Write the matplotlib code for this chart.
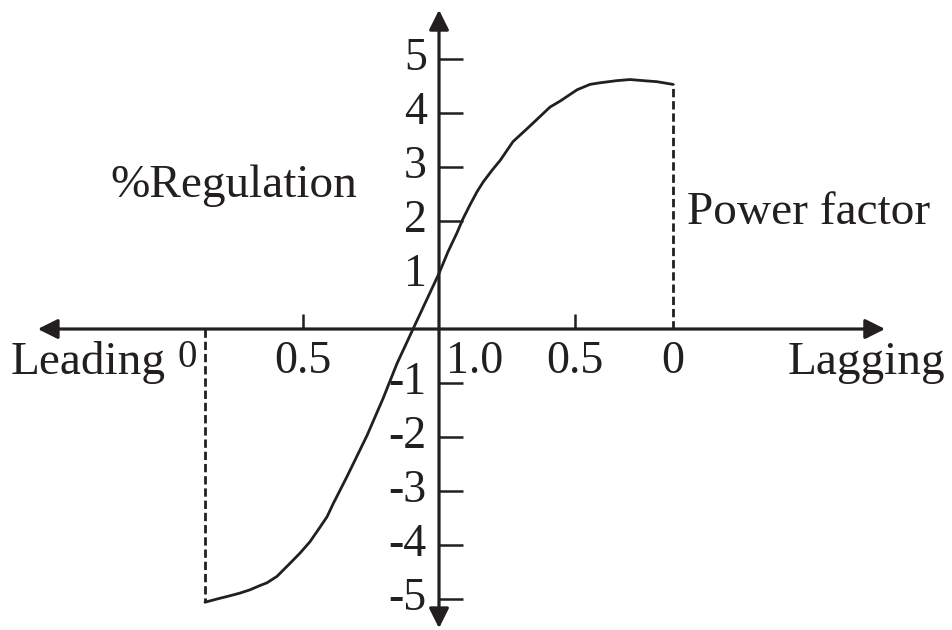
import matplotlib
matplotlib.use('Agg')
import matplotlib.pyplot as plt

plt.rcParams['font.family'] = ['Liberation Serif', 'DejaVu Serif']

# Regulation curve: x = position along power-factor axis (leading < 0 < lagging),
# y = % regulation
curve_x = [-1.721, -1.632, -1.537, -1.463, -1.390, -1.316, -1.265, -1.191,
           -1.096, -1.022, -0.949, -0.875, -0.824, -0.779, -0.676, -0.529,
           -0.412, -0.309, -0.191,
           0.000, 0.066, 0.132, 0.176, 0.228, 0.279, 0.324, 0.390, 0.449,
           0.544, 0.669, 0.816, 0.890, 1.015, 1.110, 1.184, 1.309, 1.404,
           1.500, 1.603, 1.721]
curve_y = [-5.06, -5.00, -4.94, -4.89, -4.83, -4.75, -4.70, -4.58,
           -4.34, -4.15, -3.94, -3.67, -3.48, -3.24, -2.73, -1.97,
           -1.29, -0.64, 0.00,
           1.03, 1.43, 1.78, 2.04, 2.30, 2.54, 2.72, 2.94, 3.12,
           3.47, 3.76, 4.11, 4.22, 4.43, 4.53, 4.56, 4.60, 4.62,
           4.60, 4.58, 4.53]

# power-factor scale on the horizontal axis
pf_pos = [-1.72, -1.0, 1.0, 1.72]
pf_labels = ['0', '0.5', '0.5', '0']

# regulation ticks on the vertical axis
reg_ticks = [5, 4, 3, 2, -1, -2, -3, -4, -5]
reg_labels = [5, 4, 3, 2, 1, -1, -2, -3, -4, -5]

ink = '#231f20'

fig = plt.figure(figsize=(9.52, 6.3), dpi=100)
ax = fig.add_axes([0, 0, 1, 1])
ax.set_xlim(-3.228, 3.772)
ax.set_ylim(-5.574, 6.093)
ax.axis('off')

# axes with arrow heads
arrow = dict(arrowstyle='<|-|>', color=ink, lw=2.3,
             mutation_scale=30, shrinkA=0, shrinkB=0)
ax.annotate('', xy=(-2.95, 0), xytext=(3.28, 0), arrowprops=arrow)
ax.annotate('', xy=(0, 5.91), xytext=(0, -5.54), arrowprops=arrow)

# tick marks
ax.hlines(reg_ticks, 0, 0.18, color=ink, lw=1.8)
ax.vlines([-1.0, 1.0], 0, 0.28, color=ink, lw=1.8)

# regulation curve
ax.plot(curve_x, curve_y, color=ink, lw=2.0, solid_capstyle='round',
        solid_joinstyle='round')

# dashed verticals at zero power factor
ax.plot([curve_x[0], curve_x[0]], [0, curve_y[0]], color=ink, lw=2.0,
        dashes=(3.0, 1.4))
ax.plot([curve_x[-1], curve_x[-1]], [0, curve_y[-1]], color=ink, lw=2.0,
        dashes=(3.0, 1.4))

fs = 33
for v in reg_labels:
    ax.text(-0.09, v, str(v), ha='right', va='center', fontsize=fs, color=ink)

# power factor labels
row = -0.81
ax.text(pf_pos[0] - 0.06, -0.70, pf_labels[0], ha='right', va='baseline',
        fontsize=28, color=ink)
ax.text(pf_pos[1], row, pf_labels[1], ha='center', va='baseline',
        fontsize=fs, color=ink)
ax.text(0.05, row, '1.0', ha='left', va='baseline', fontsize=fs, color=ink)
ax.text(pf_pos[2], row, pf_labels[2], ha='center', va='baseline',
        fontsize=fs, color=ink)
ax.text(pf_pos[3], row, pf_labels[3], ha='center', va='baseline',
        fontsize=fs, color=ink)

ax.text(-3.15, -0.83, 'Leading', ha='left', va='baseline', fontsize=34,
        color=ink)
ax.text(3.72, -0.83, 'Lagging', ha='right', va='baseline', fontsize=34,
        color=ink)
ax.text(-2.42, 2.65, '%Regulation', ha='left', va='center', fontsize=34,
        color=ink)
ax.text(1.82, 2.15, 'Power factor', ha='left', va='center', fontsize=34,
        color=ink)

fig.savefig('out.png', dpi=100)
